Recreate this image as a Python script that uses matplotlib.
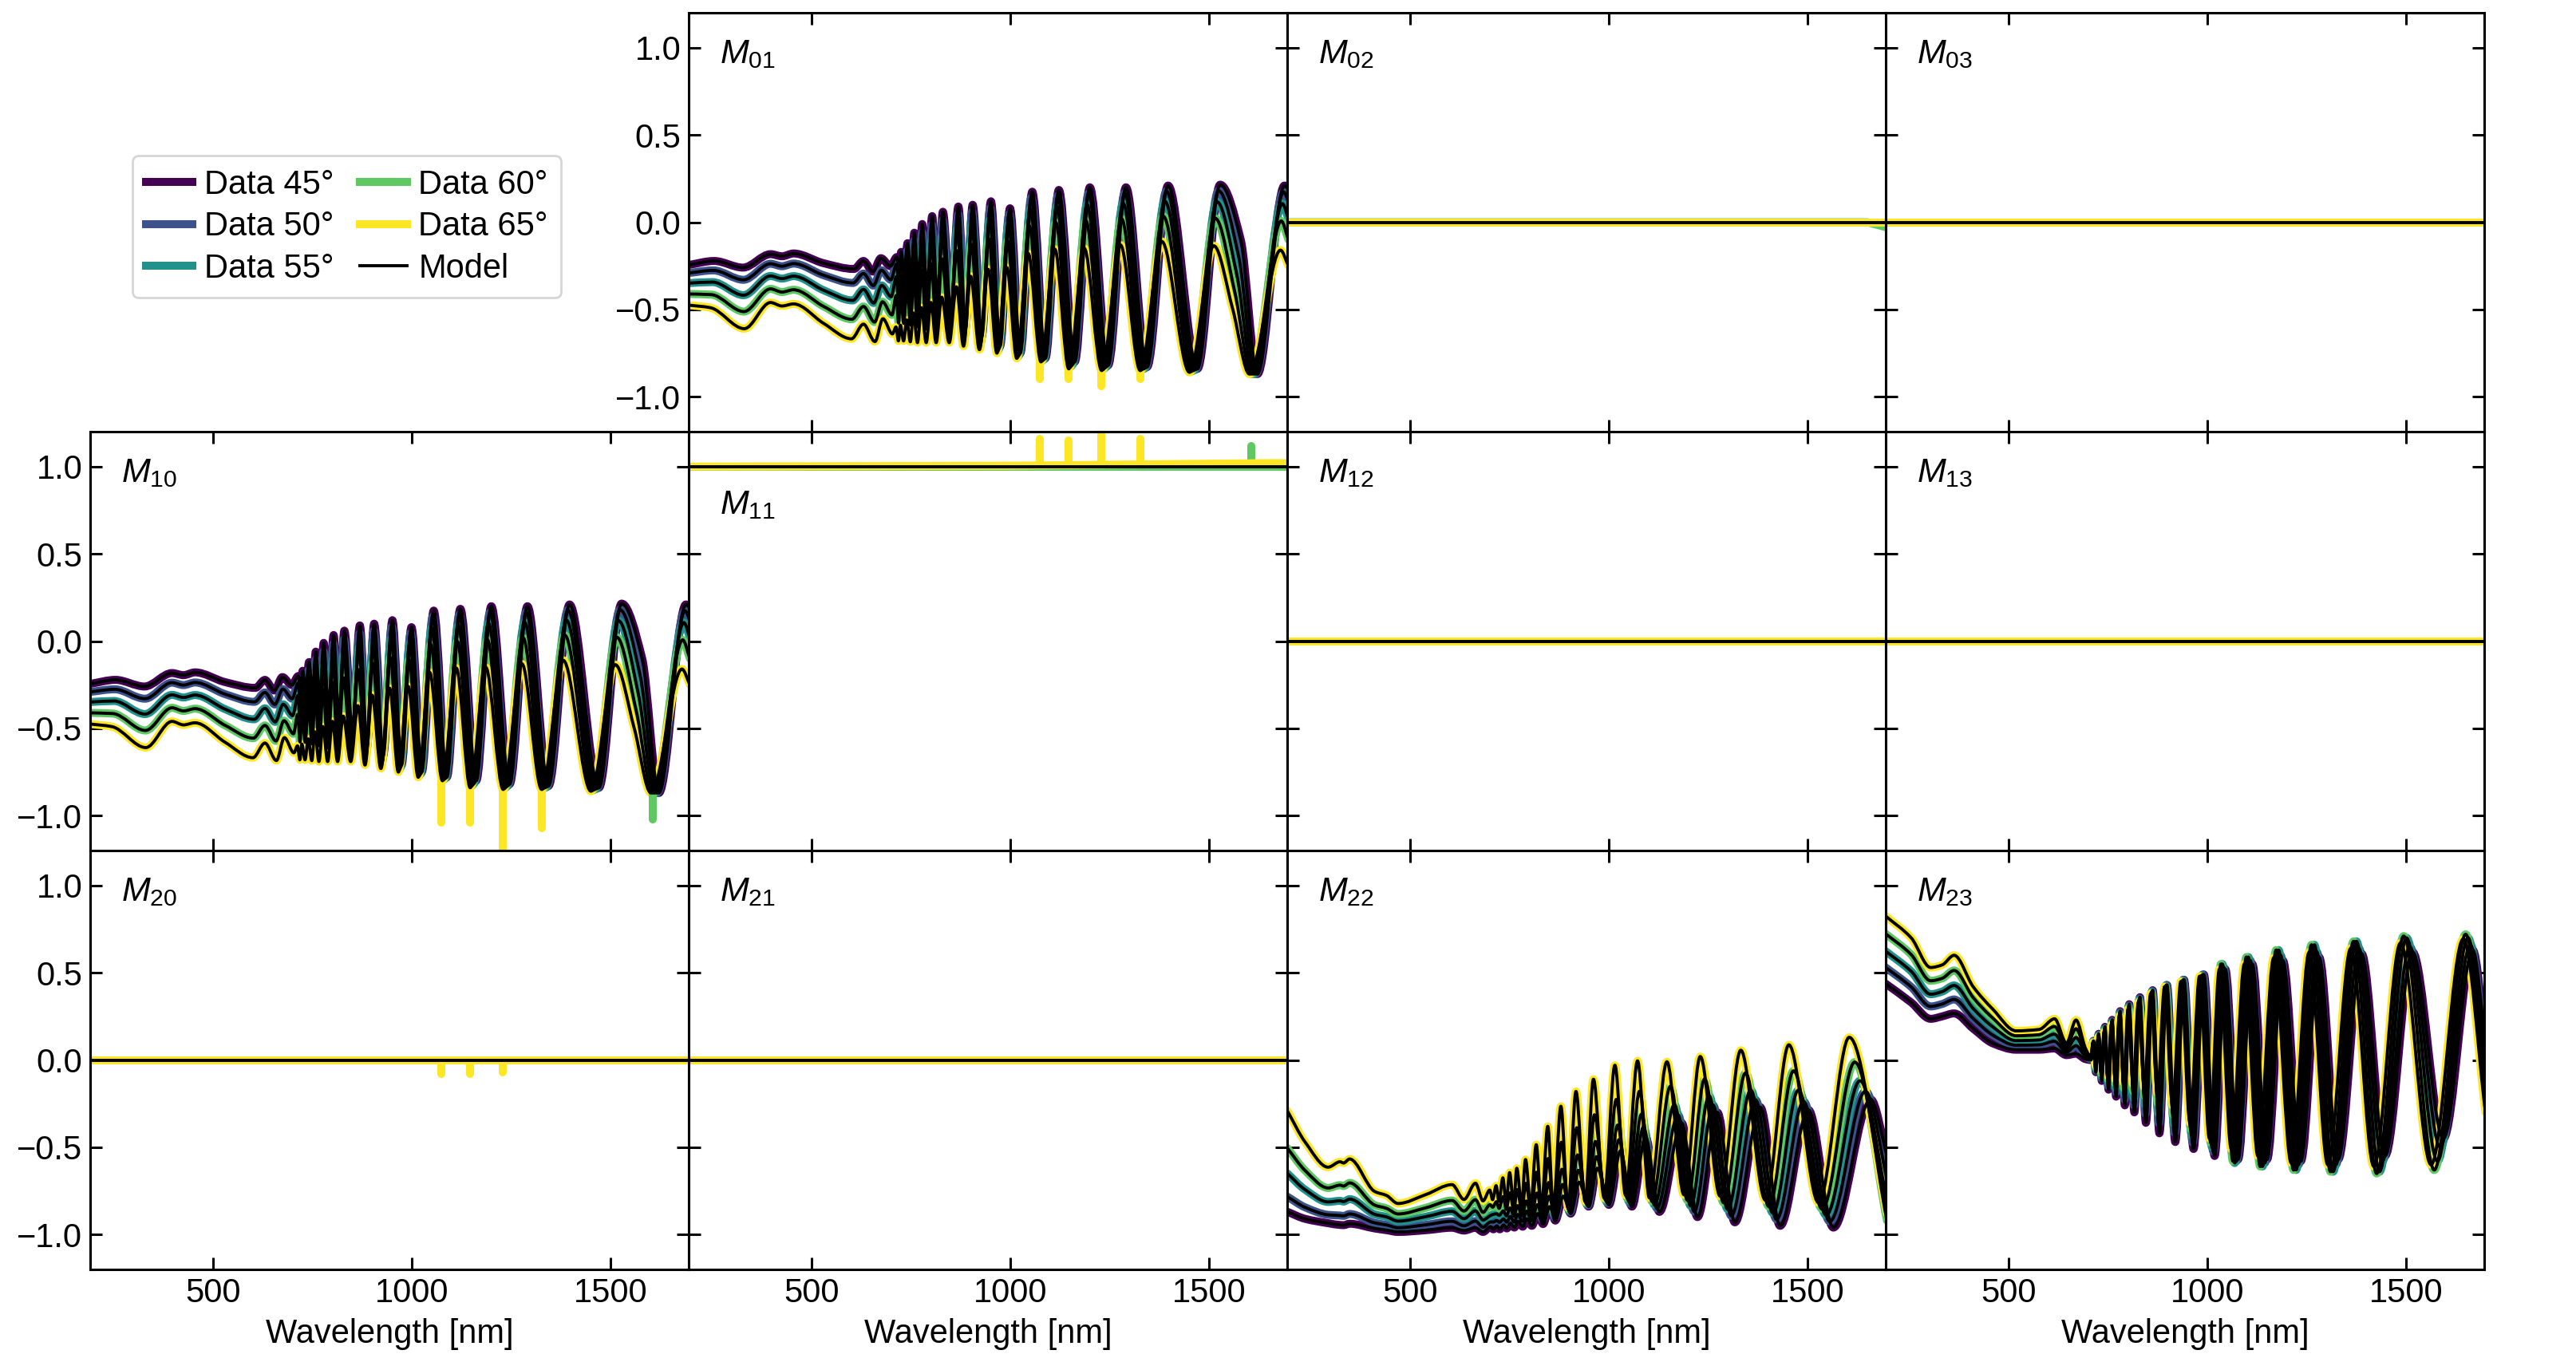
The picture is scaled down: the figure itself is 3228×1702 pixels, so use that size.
import numpy as np
import matplotlib.pyplot as plt
from matplotlib.path import Path
from matplotlib.patches import PathPatch
from matplotlib.lines import Line2D

# ---- values (extrema of each spectrum, nm / value) ----
angles = [45, 50, 55, 60, 65]
colors = ['#440154', '#3b528b', '#21918c', '#5ec962', '#fde725']

# M01 (M10 shows the same curves)
wl_m01_45 = [190, 254, 327, 396, 425, 454, 530, 606, 630, 654, 674, 698,
             714, 720, 725, 733, 741, 750, 758, 768, 778, 790, 803, 816, 830, 850, 869, 887, 905, 928, 951, 974,
             999, 1025, 1055, 1088, 1122, 1162, 1200, 1246, 1291, 1344, 1397, 1471, 1528, 1580, 1622, 1690, 1700]
m01_45 = [-0.245, -0.222, -0.26, -0.183, -0.195, -0.179, -0.235, -0.268, -0.222, -0.283, -0.206, -0.252, -0.20,
          -0.27, -0.17, -0.28, -0.12, -0.30, -0.06, -0.33, -0.01, -0.38, 0.035, -0.43, 0.06, -0.50, 0.09, -0.58,
          0.10, -0.65, 0.12, -0.71, 0.08, -0.75, 0.175, -0.78, 0.185, -0.80, 0.20, -0.82, 0.20, -0.83, 0.21,
          -0.84, 0.215, -0.10, -0.87, 0.21, 0.19]
wl_m01_50 = [190, 252, 328, 396, 425, 454, 530, 604, 630, 655, 675, 699,
             713.5, 719.5, 724.5, 732.5, 740.5, 749.5, 757.5, 767.5, 777.5, 789.5, 802.3, 815.3, 829.3, 849, 868.8,
             886.8, 903.8, 926.5, 949.3, 972, 997, 1022.8, 1052.5, 1085.3, 1119.5, 1158, 1197, 1242, 1288, 1340,
             1393, 1466, 1524, 1575, 1617, 1688, 1700]
m01_50 = [-0.291, -0.276, -0.33, -0.238, -0.252, -0.237, -0.304, -0.348, -0.294, -0.363, -0.275, -0.330, -0.24,
          -0.373, -0.212, -0.38, -0.164, -0.396, -0.106, -0.42, -0.058, -0.458, -0.015, -0.495, 0.011, -0.548,
          0.044, -0.613, 0.059, -0.67, 0.081, -0.72, 0.046, -0.758, 0.14, -0.785, 0.151, -0.81, 0.165, -0.828,
          0.167, -0.835, 0.178, -0.845, 0.18, -0.20, -0.87, 0.173, 0.12]
wl_m01_55 = [190, 250, 328, 396, 425, 454, 530, 603, 630, 656, 676, 700,
             713, 719, 724, 732, 740, 749, 757, 767, 777, 789, 801.5, 814.5, 828.5, 848, 866.5, 884.5, 902.5, 925,
             947.5, 970, 995, 1020.5, 1050, 1082.5, 1117, 1155, 1193, 1238, 1284, 1336, 1389, 1461, 1520, 1570,
             1612, 1685, 1700]
m01_55 = [-0.349, -0.343, -0.418, -0.308, -0.323, -0.309, -0.390, -0.448, -0.385, -0.463, -0.362, -0.427, -0.312,
          -0.475, -0.288, -0.48, -0.243, -0.493, -0.189, -0.51, -0.144, -0.535, -0.104, -0.56, -0.077, -0.595,
          -0.039, -0.645, -0.015, -0.69, 0.011, -0.73, -0.015, -0.765, 0.076, -0.79, 0.09, -0.82, 0.102, -0.835,
          0.108, -0.84, 0.12, -0.85, 0.117, -0.30, -0.87, 0.106, 0.02]
wl_m01_60 = [190, 247, 329, 396, 425, 454, 530, 601, 630, 658, 678, 702,
             712.5, 718.5, 723.5, 731.5, 739.5, 748.5, 756.5, 766.5, 776.5, 788.5, 800.8, 813.8, 827.8, 847, 865.3,
             883.3, 901.3, 923.5, 945.8, 968, 993, 1018.3, 1047.5, 1079.8, 1114.5, 1151, 1190, 1234, 1280, 1331,
             1385, 1456, 1516, 1565, 1607, 1682, 1700]
m01_60 = [-0.411, -0.415, -0.512, -0.382, -0.400, -0.387, -0.483, -0.556, -0.483, -0.572, -0.456, -0.531, -0.42,
          -0.578, -0.401, -0.58, -0.362, -0.589, -0.313, -0.60, -0.274, -0.613, -0.237, -0.625, -0.21, -0.643,
          -0.163, -0.678, -0.126, -0.71, -0.095, -0.74, -0.107, -0.773, -0.02, -0.795, -0.002, -0.83, 0.008,
          -0.843, 0.019, -0.845, 0.034, -0.855, 0.022, -0.40, -0.87, 0.007, -0.10]
wl_m01_65 = [190, 245, 330, 396, 425, 454, 530, 600, 630, 659, 679, 703,
             712, 718, 723, 731, 739, 748, 756, 766, 776, 788, 800, 813, 827, 846, 864, 882, 900, 922, 944, 966,
             991, 1016, 1045, 1077, 1112, 1147, 1186, 1230, 1277, 1327, 1381, 1451, 1512, 1560, 1602, 1680, 1700]
m01_65 = [-0.475, -0.49, -0.61, -0.46, -0.48, -0.468, -0.58, -0.668, -0.584, -0.684, -0.553, -0.64, -0.60, -0.68,
          -0.59, -0.68, -0.56, -0.685, -0.52, -0.69, -0.49, -0.69, -0.46, -0.69, -0.43, -0.69, -0.37, -0.71, -0.31,
          -0.73, -0.27, -0.75, -0.26, -0.78, -0.18, -0.80, -0.155, -0.84, -0.15, -0.85, -0.13, -0.85, -0.11, -0.86,
          -0.135, -0.50, -0.87, -0.16, -0.25]

# M22
wl_m22_45 = [190, 235, 293, 323, 332, 347, 410, 440, 469, 540, 605, 635, 664, 683,
             702, 709, 718, 725, 735, 743, 752, 762, 771, 783, 793, 806, 821, 834, 851, 865, 885, 904, 925, 949,
             971, 1000, 1029, 1058, 1092, 1127, 1183, 1223, 1273, 1317, 1381, 1431, 1502, 1565, 1659, 1700]
m22_45 = [-0.869, -0.91, -0.935, -0.945, -0.946, -0.938, -0.965, -0.975, -0.985, -0.975, -0.961, -0.977, -0.961,
          -0.985, -0.955, -0.97, -0.95, -0.97, -0.945, -0.965, -0.935, -0.96, -0.925, -0.955, -0.91, -0.95, -0.88,
          -0.94, -0.84, -0.92, -0.78, -0.88, -0.70, -0.84, -0.62, -0.83, -0.52, -0.84, -0.44, -0.87, -0.36, -0.90,
          -0.30, -0.93, -0.27, -0.95, -0.285, -0.96, -0.225, -0.55]
wl_m22_50 = [190, 235, 293, 323, 332, 347, 410, 440, 469, 540, 605, 635, 664, 683,
             701.5, 708.5, 717.5, 724.5, 734.5, 742.5, 751.5, 761.5, 770.3, 782.3, 792.3, 805.3, 820, 833, 849.8,
             863.8, 883.5, 902.3, 923, 946.8, 968.5, 997, 1025.5, 1054, 1087, 1120.8, 1174, 1215, 1262, 1308, 1369,
             1422, 1490, 1556, 1646, 1700]
m22_50 = [-0.782, -0.844, -0.887, -0.891, -0.893, -0.882, -0.933, -0.945, -0.961, -0.944, -0.924, -0.95, -0.923,
          -0.958, -0.928, -0.928, -0.92, -0.93, -0.91, -0.929, -0.897, -0.928, -0.885, -0.924, -0.866, -0.921,
          -0.829, -0.916, -0.78, -0.903, -0.713, -0.871, -0.632, -0.833, -0.554, -0.82, -0.456, -0.824, -0.383,
          -0.85, -0.315, -0.868, -0.258, -0.893, -0.228, -0.913, -0.237, -0.925, -0.179, -0.68]
wl_m22_55 = [190, 235, 293, 323, 332, 347, 410, 440, 469, 540, 605, 635, 664, 683,
             701, 708, 717, 724, 734, 742, 751, 761, 769.5, 781.5, 791.5, 804.5, 819, 832, 848.5, 862.5, 882, 900.5,
             921, 944.5, 966, 994, 1022, 1050, 1082, 1114.5, 1165, 1206, 1252, 1299, 1357, 1413, 1477, 1547, 1632,
             1700]
m22_55 = [-0.649, -0.743, -0.813, -0.807, -0.811, -0.797, -0.884, -0.899, -0.923, -0.897, -0.867, -0.909, -0.864,
          -0.917, -0.892, -0.885, -0.881, -0.89, -0.864, -0.893, -0.848, -0.895, -0.834, -0.893, -0.808, -0.893,
          -0.762, -0.893, -0.702, -0.885, -0.626, -0.863, -0.544, -0.825, -0.467, -0.81, -0.373, -0.808, -0.31,
          -0.83, -0.255, -0.836, -0.204, -0.855, -0.172, -0.877, -0.173, -0.889, -0.119, -0.80]
wl_m22_60 = [190, 235, 293, 323, 332, 347, 410, 440, 469, 540, 605, 635, 664, 683,
             700.5, 707.5, 716.5, 723.5, 733.5, 741.5, 750.5, 760.5, 768.8, 780.8, 790.8, 803.8, 818, 831, 847.3,
             861.3, 880.5, 898.8, 919, 942.3, 963.5, 991, 1018.5, 1046, 1077, 1108.3, 1155, 1198, 1241, 1289, 1344,
             1403, 1465, 1537, 1619, 1700]
m22_60 = [-0.504, -0.633, -0.733, -0.717, -0.722, -0.704, -0.831, -0.85, -0.882, -0.846, -0.805, -0.865, -0.80,
          -0.873, -0.829, -0.843, -0.812, -0.85, -0.783, -0.856, -0.761, -0.863, -0.742, -0.861, -0.706, -0.864,
          -0.643, -0.869, -0.564, -0.868, -0.471, -0.854, -0.388, -0.818, -0.314, -0.80, -0.226, -0.791, -0.179,
          -0.81, -0.15, -0.804, -0.108, -0.818, -0.074, -0.84, -0.062, -0.854, -0.012, -0.92]
wl_m22_65 = [190, 235, 293, 323, 332, 347, 410, 440, 469, 540, 605, 635, 664, 683,
             700, 707, 716, 723, 733, 741, 750, 760, 768, 780, 790, 803, 817, 830, 846, 860, 879, 897, 917, 940,
             961, 988, 1015, 1042, 1072, 1102, 1146, 1189, 1230, 1280, 1332, 1394, 1453, 1528, 1605, 1700]
m22_65 = [-0.29, -0.47, -0.614, -0.583, -0.59, -0.567, -0.753, -0.776, -0.822, -0.77, -0.714, -0.799, -0.706,
          -0.807, -0.745, -0.80, -0.72, -0.81, -0.675, -0.82, -0.645, -0.83, -0.62, -0.83, -0.57, -0.835, -0.485,
          -0.845, -0.38, -0.85, -0.265, -0.845, -0.18, -0.81, -0.11, -0.79, -0.03, -0.775, -0.005, -0.79, -0.01,
          -0.772, 0.02, -0.78, 0.056, -0.803, 0.087, -0.818, 0.13, -0.88]

# M23
wl_m23_45 = [190, 254, 303, 332, 362, 410, 460, 518, 576, 615, 645, 669, 693,
             707, 713, 719, 726, 734, 742, 751, 760, 770, 780, 792, 803, 816, 830, 845, 862, 879, 898, 919, 941,
             965, 991, 1018, 1045, 1077, 1113, 1150, 1190, 1235, 1281, 1329, 1388, 1447, 1516, 1594, 1668, 1700]
m23_45 = [0.437, 0.33, 0.236, 0.25, 0.267, 0.18, 0.095, 0.059, 0.059, 0.066, 0.028, 0.036, 0.005, 0.0, 0.11,
          -0.07, 0.15, -0.12, 0.19, -0.17, 0.23, -0.21, 0.28, -0.26, 0.32, -0.30, 0.36, -0.36, 0.40, -0.42, 0.43,
          -0.47, 0.46, -0.51, 0.49, -0.55, 0.52, -0.57, 0.55, -0.57, 0.57, -0.58, 0.59, -0.57, 0.61, -0.55, 0.62,
          -0.45, 0.63, 0.10]
wl_m23_50 = [190, 254, 303, 332, 362, 410, 460, 518, 576, 615, 645, 669, 693,
             706.8, 712.8, 718.8, 725.8, 733.5, 741.5, 750.5, 759.5, 769.5, 779.5, 791.3, 802.3, 815.3, 829, 844,
             860.8, 877.8, 896.5, 917.3, 939, 962.8, 988.3, 1014.8, 1041.3, 1072.8, 1108, 1144.3, 1184, 1229, 1275,
             1323, 1381, 1440, 1509, 1586, 1662, 1700]
m23_50 = [0.53, 0.419, 0.307, 0.321, 0.347, 0.238, 0.142, 0.085, 0.087, 0.107, 0.045, 0.082, 0.02, 0.005, 0.108,
          -0.06, 0.145, -0.105, 0.183, -0.15, 0.223, -0.185, 0.273, -0.228, 0.313, -0.26, 0.353, -0.309, 0.395,
          -0.363, 0.43, -0.418, 0.46, -0.473, 0.49, -0.525, 0.53, -0.58, 0.57, -0.59, 0.60, -0.60, 0.62, -0.60,
          0.64, -0.58, 0.65, -0.50, 0.66, 0.0]
wl_m23_55 = [190, 254, 303, 332, 362, 410, 460, 518, 576, 615, 645, 669, 693,
             706.5, 712.5, 718.5, 725.5, 733, 741, 750, 759, 769, 779, 790.5, 801.5, 814.5, 828, 843, 859.5, 876.5,
             895, 915.5, 937, 960.5, 985.5, 1011.5, 1037.5, 1068.5, 1103, 1138.5, 1179, 1223, 1269, 1316, 1375,
             1433, 1501, 1579, 1656, 1700]
m23_55 = [0.623, 0.508, 0.377, 0.392, 0.427, 0.295, 0.189, 0.111, 0.115, 0.148, 0.061, 0.129, 0.034, 0.01, 0.105,
          -0.05, 0.14, -0.09, 0.175, -0.13, 0.215, -0.16, 0.265, -0.195, 0.305, -0.22, 0.345, -0.258, 0.39,
          -0.305, 0.425, -0.365, 0.455, -0.435, 0.485, -0.50, 0.55, -0.59, 0.59, -0.61, 0.63, -0.63, 0.66, -0.64,
          0.68, -0.64, 0.70, -0.58, 0.70, -0.08]
wl_m23_60 = [190, 254, 303, 332, 362, 410, 460, 518, 576, 615, 645, 669, 693,
             706.3, 712.3, 718.3, 725.3, 732.5, 740.5, 749.5, 758.5, 768.5, 778.5, 789.8, 800.8, 813.8, 827, 842,
             858.3, 875.3, 893.5, 913.8, 935, 958.3, 982.8, 1008.3, 1033.8, 1064.3, 1098, 1132.8, 1173, 1217, 1262,
             1310, 1368, 1426, 1494, 1571, 1650, 1700]
m23_60 = [0.723, 0.604, 0.454, 0.468, 0.513, 0.358, 0.239, 0.139, 0.145, 0.192, 0.079, 0.179, 0.05, 0.015, 0.103,
          -0.04, 0.135, -0.075, 0.168, -0.11, 0.208, -0.135, 0.258, -0.163, 0.298, -0.18, 0.338, -0.206, 0.385,
          -0.248, 0.42, -0.313, 0.45, -0.398, 0.48, -0.475, 0.55, -0.58, 0.59, -0.61, 0.63, -0.63, 0.66, -0.64,
          0.68, -0.65, 0.71, -0.63, 0.72, -0.18]
wl_m23_65 = [190, 254, 303, 332, 362, 410, 460, 518, 576, 615, 645, 669, 693,
             706, 712, 718, 725, 732, 740, 749, 758, 768, 778, 789, 800, 813, 826, 841, 857, 874, 892, 912, 933,
             956, 980, 1005, 1030, 1060, 1093, 1127, 1167, 1211, 1256, 1303, 1361, 1419, 1486, 1563, 1644, 1700]
m23_65 = [0.824, 0.70, 0.53, 0.545, 0.60, 0.42, 0.29, 0.167, 0.175, 0.236, 0.097, 0.229, 0.066, 0.02, 0.10, -0.03,
          0.13, -0.06, 0.16, -0.09, 0.20, -0.11, 0.25, -0.13, 0.29, -0.14, 0.33, -0.155, 0.38, -0.19, 0.42, -0.26,
          0.45, -0.36, 0.48, -0.45, 0.52, -0.51, 0.55, -0.55, 0.586, -0.59, 0.617, -0.60, 0.64, -0.61, 0.67, -0.60,
          0.693, -0.30]

# flat elements (off-diagonal ~0, M11 ~1)
wl_flat = [190, 1000, 1650, 1700]
zero_level = [0.0, 0.0, 0.0, 0.0]
m02_60 = [0.0, 0.0, 0.0, -0.03]
unity_level = [1.0, 1.0, 1.0, 1.0]
m11_65 = [1.0, 1.005, 1.02, 1.02]

# narrow spikes in the 65 deg / 60 deg data
spike_wl_65 = [1074, 1146, 1228, 1327]
m01_spike_base = [-0.80, -0.84, -0.85, -0.85]
m01_spike_65 = [-0.90, -0.90, -0.94, -0.90]
m10_spike_65 = [-1.04, -1.04, -1.25, -1.07]
m11_spike_65 = [1.16, 1.15, 1.25, 1.16]
m20_spike_65 = [-0.08, -0.08, -0.07, 0.0]
spike_wl_60 = [1606]
m10_spike_base_60 = [-0.87]
m10_spike_60 = [-1.02]
m11_spike_60 = [1.12]

plt.rcParams['font.family'] = ['Liberation Sans', 'DejaVu Sans']
plt.rcParams['font.size'] = 15
plt.rcParams['mathtext.fontset'] = 'custom'
plt.rcParams['mathtext.it'] = 'Liberation Sans:italic'
plt.rcParams['mathtext.rm'] = 'Liberation Sans'
plt.rcParams['axes.linewidth'] = 1.1

DATA_LW = 3.6
MODEL_LW = 1.4


def smooth_path(x, y):
    ''' cubic bezier path through the read-off points (flat tangent at extrema) '''
    x = np.asarray(x, float)
    y = np.asarray(y, float)
    dx = np.diff(x)
    s = np.diff(y) / dx
    m = np.zeros_like(y)
    for i in range(1, len(y) - 1):
        if s[i - 1] * s[i] > 0:
            m[i] = 2.0 / (1.0 / s[i - 1] + 1.0 / s[i])
    m[0], m[-1] = s[0], s[-1]
    verts = [(x[0], y[0])]
    for i in range(len(dx)):
        h = dx[i] / 3.0
        verts += [(x[i] + h, y[i] + m[i] * h), (x[i + 1] - h, y[i + 1] - m[i + 1] * h), (x[i + 1], y[i + 1])]
    codes = [Path.MOVETO] + [Path.CURVE4] * (3 * len(dx))
    return Path(verts, codes)


def draw_curves(ax, sets):
    for (x, y), c in zip(sets, colors):
        ax.add_patch(PathPatch(smooth_path(x, y), fc='none', ec=c, lw=DATA_LW,
                               capstyle='round', joinstyle='round', zorder=2))
    # model curves on top of all data
    for x, y in sets:
        ax.add_patch(PathPatch(smooth_path(x, y), fc='none', ec='black', lw=MODEL_LW,
                               capstyle='round', joinstyle='round', zorder=3))


def draw_flat(ax, data_sets, model_level):
    for y, c in zip(data_sets, colors):
        ax.plot(wl_flat, y, color=c, lw=DATA_LW, solid_capstyle='round', zorder=2)
    ax.plot(wl_flat, model_level, color='black', lw=MODEL_LW, zorder=3)


def spikes(ax, wl, base, tip, c):
    lc = ax.vlines(wl, base, tip, color=c, lw=DATA_LW, zorder=2)
    lc.set_capstyle('round')


m01_sets = [(wl_m01_45, m01_45), (wl_m01_50, m01_50), (wl_m01_55, m01_55),
            (wl_m01_60, m01_60), (wl_m01_65, m01_65)]
m22_sets = [(wl_m22_45, m22_45), (wl_m22_50, m22_50), (wl_m22_55, m22_55),
            (wl_m22_60, m22_60), (wl_m22_65, m22_65)]
m23_sets = [(wl_m23_45, m23_45), (wl_m23_50, m23_50), (wl_m23_55, m23_55),
            (wl_m23_60, m23_60), (wl_m23_65, m23_65)]

fig, axes = plt.subplots(3, 4, figsize=(16.14, 8.51), dpi=200, sharex=True, sharey=True)
fig.subplots_adjust(left=0.035, right=0.9644, top=0.9906, bottom=0.0652, wspace=0, hspace=0)

names = [[None, '01', '02', '03'], ['10', '11', '12', '13'], ['20', '21', '22', '23']]

# M01 / M10
draw_curves(axes[0, 1], m01_sets)
spikes(axes[0, 1], spike_wl_65, m01_spike_base, m01_spike_65, colors[4])
draw_curves(axes[1, 0], m01_sets)
spikes(axes[1, 0], spike_wl_65, m01_spike_base, m10_spike_65, colors[4])
spikes(axes[1, 0], spike_wl_60, m10_spike_base_60, m10_spike_60, colors[3])

# M11
spikes(axes[1, 1], spike_wl_65, unity_level, m11_spike_65, colors[4])
spikes(axes[1, 1], spike_wl_60, [1.0], m11_spike_60, colors[3])
draw_flat(axes[1, 1], [unity_level] * 4 + [m11_65], unity_level)

# near-zero elements
draw_flat(axes[0, 2], [zero_level, zero_level, zero_level, m02_60, zero_level], zero_level)
draw_flat(axes[0, 3], [zero_level] * 5, zero_level)
draw_flat(axes[1, 2], [zero_level] * 5, zero_level)
draw_flat(axes[1, 3], [zero_level] * 5, zero_level)
spikes(axes[2, 0], spike_wl_65, zero_level, m20_spike_65, colors[4])
draw_flat(axes[2, 0], [zero_level] * 5, zero_level)
draw_flat(axes[2, 1], [zero_level] * 5, zero_level)

# M22 / M23
draw_curves(axes[2, 2], m22_sets)
draw_curves(axes[2, 3], m23_sets)

for r in range(3):
    for c in range(4):
        ax = axes[r, c]
        if names[r][c] is None:
            ax.axis('off')
            continue
        ax.set_xlim(190, 1697)
        ax.set_ylim(-1.2, 1.2)
        ax.set_xticks([500, 1000, 1500])
        ax.set_yticks([-1.0, -0.5, 0.0, 0.5, 1.0])
        ax.tick_params(direction='in', top=True, right=True, length=5.5, width=1.1)
        ypos = 0.825 if names[r][c] == '11' else 0.90
        ax.text(0.052, ypos, r'$M_{%s}$' % names[r][c], transform=ax.transAxes,
                ha='left', va='center', fontsize=15.5)
        if r == 2:
            ax.set_xlabel('Wavelength [nm]')

axes[0, 1].yaxis.set_tick_params(labelleft=True)

handles = [Line2D([], [], color=c, lw=DATA_LW) for c in colors]
handles.append(Line2D([], [], color='black', lw=MODEL_LW))
labels = ['Data %d°' % a for a in angles] + ['Model']
fig.legend(handles, labels, ncol=2, loc='upper left', bbox_to_anchor=(0.0514, 0.8854),
           bbox_transform=fig.transFigure, borderaxespad=0, handlelength=1.4, columnspacing=0.8,
           handletextpad=0.35, borderpad=0.4, labelspacing=0.3)

fig.savefig('out.png', dpi=200)
